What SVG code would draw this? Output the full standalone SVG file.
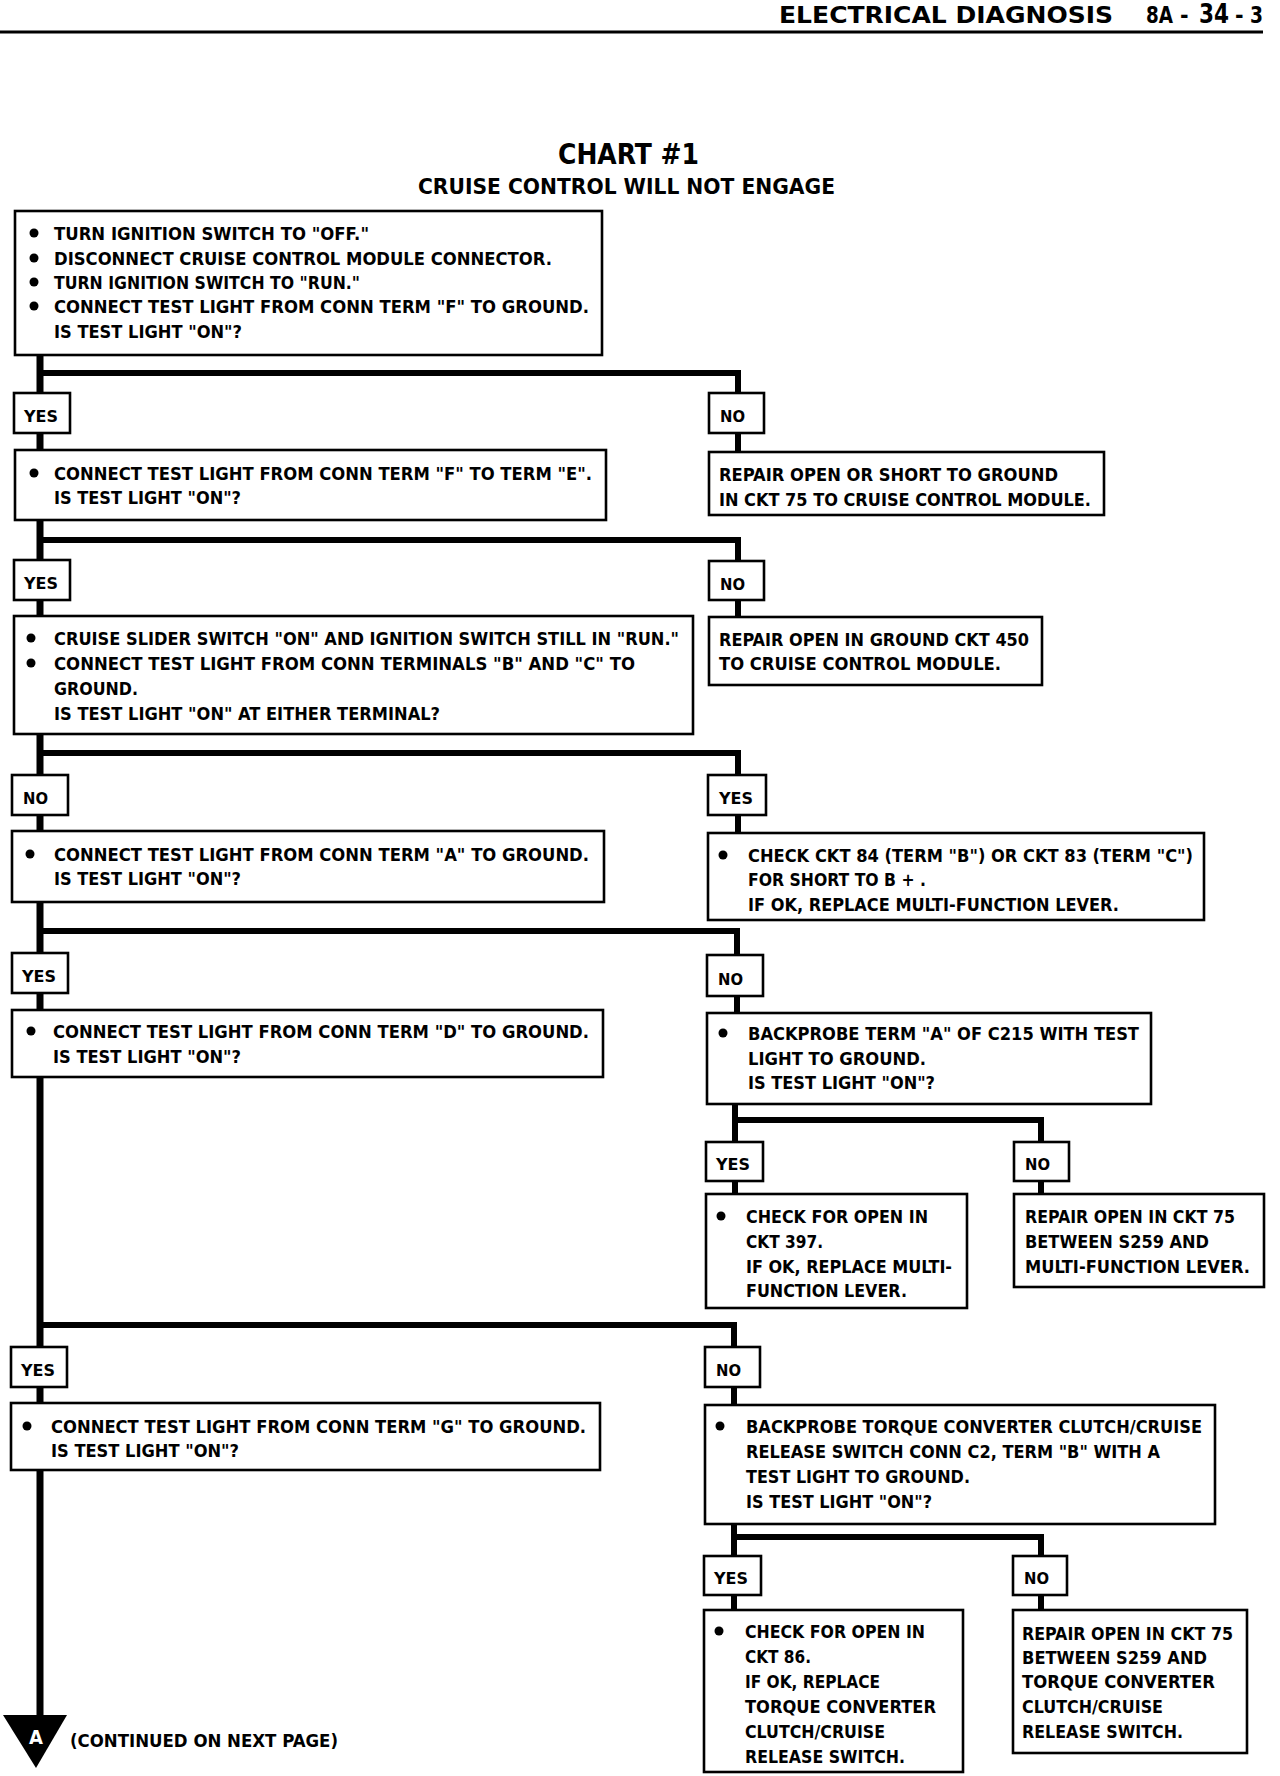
<svg xmlns="http://www.w3.org/2000/svg" width="1280" height="1776" viewBox="0 0 1280 1776">
<style>
.bg{fill:#fff}
.box{fill:#fff;stroke:#000;stroke-width:2.6}
.w{fill:none;stroke:#000;stroke-width:6;stroke-linejoin:miter;stroke-linecap:butt}
.main{fill:none;stroke:#000;stroke-width:7}
text{font-family:"Liberation Sans Narrow","DejaVu Sans Condensed","Liberation Sans",sans-serif;font-weight:bold;fill:#000}
.t{font-size:17px}
.l{font-size:16px}
.h{font-size:23px}
.b{fill:#000}
</style>
<rect class="bg" x="0" y="0" width="1280" height="1776"/>

<g id="header">
<text class="h" y="23"><tspan x="779" textLength="334" lengthAdjust="spacingAndGlyphs">ELECTRICAL DIAGNOSIS</tspan><tspan x="1146" textLength="27" lengthAdjust="spacingAndGlyphs">8A</tspan><tspan x="1180">-</tspan><tspan x="1199" font-size="27" textLength="30" lengthAdjust="spacingAndGlyphs">34</tspan><tspan x="1235">-</tspan><tspan x="1250" textLength="13" lengthAdjust="spacingAndGlyphs">3</tspan></text>
<line x1="0" y1="32" x2="1263" y2="32" stroke="#000" stroke-width="3"/>
</g>

<g id="title">
<text x="558" y="164" font-size="28" textLength="141" lengthAdjust="spacingAndGlyphs">CHART #1</text>
<text x="418" y="194" font-size="22" textLength="417" lengthAdjust="spacingAndGlyphs">CRUISE CONTROL WILL NOT ENGAGE</text>
</g>

<g id="connectors">
<path class="main" d="M40 355 V1716"/>
<path class="w" d="M40 373 H738 V452"/>
<path class="w" d="M40 540 H738 V617"/>
<path class="w" d="M40 753 H738 V833"/>
<path class="w" d="M40 931 H737 V1013"/>
<path class="w" d="M735 1104 V1194 M735 1120 H1041 V1194"/>
<path class="w" d="M40 1325 H734 V1405"/>
<path class="w" d="M734 1524 V1610 M734 1537 H1041 V1610"/>
</g>

<g id="n1">
<rect class="box" x="15" y="211" width="587" height="144"/>
<circle class="b" cx="34" cy="233" r="4.5"/><circle class="b" cx="34" cy="258" r="4.5"/><circle class="b" cx="34" cy="282" r="4.5"/><circle class="b" cx="34" cy="306" r="4.5"/>
<text class="t" x="54" y="240" textLength="315" lengthAdjust="spacingAndGlyphs">TURN IGNITION SWITCH TO "OFF."</text>
<text class="t" x="54" y="265" textLength="498" lengthAdjust="spacingAndGlyphs">DISCONNECT CRUISE CONTROL MODULE CONNECTOR.</text>
<text class="t" x="54" y="289" textLength="306" lengthAdjust="spacingAndGlyphs">TURN IGNITION SWITCH TO "RUN."</text>
<text class="t" x="54" y="313" textLength="535" lengthAdjust="spacingAndGlyphs">CONNECT TEST LIGHT FROM CONN TERM "F" TO GROUND.</text>
<text class="t" x="54" y="338" textLength="188" lengthAdjust="spacingAndGlyphs">IS TEST LIGHT "ON"?</text>
</g>

<g id="yes1"><rect class="box" x="14" y="393" width="56" height="40"/><text class="l" x="24" y="422" textLength="34" lengthAdjust="spacingAndGlyphs">YES</text></g>
<g id="no1"><rect class="box" x="709" y="393" width="55" height="40"/><text class="l" x="720" y="422" textLength="25" lengthAdjust="spacingAndGlyphs">NO</text></g>

<g id="n2">
<rect class="box" x="15" y="450" width="591" height="70"/>
<circle class="b" cx="34" cy="473" r="4.5"/>
<text class="t" x="54" y="480" textLength="538" lengthAdjust="spacingAndGlyphs">CONNECT TEST LIGHT FROM CONN TERM "F" TO TERM "E".</text>
<text class="t" x="54" y="504" textLength="187" lengthAdjust="spacingAndGlyphs">IS TEST LIGHT "ON"?</text>
</g>

<g id="r1">
<rect class="box" x="709" y="452" width="395" height="63"/>
<text class="t" x="719" y="481" textLength="339" lengthAdjust="spacingAndGlyphs">REPAIR OPEN OR SHORT TO GROUND</text>
<text class="t" x="719" y="506" textLength="372" lengthAdjust="spacingAndGlyphs">IN CKT 75 TO CRUISE CONTROL MODULE.</text>
</g>

<g id="yes2"><rect class="box" x="14" y="560" width="56" height="40"/><text class="l" x="24" y="589" textLength="34" lengthAdjust="spacingAndGlyphs">YES</text></g>
<g id="no2"><rect class="box" x="709" y="561" width="55" height="39"/><text class="l" x="720" y="590" textLength="25" lengthAdjust="spacingAndGlyphs">NO</text></g>

<g id="n3">
<rect class="box" x="14" y="616" width="679" height="118"/>
<circle class="b" cx="31" cy="638" r="4.5"/><circle class="b" cx="31" cy="663" r="4.5"/>
<text class="t" x="54" y="645" textLength="625" lengthAdjust="spacingAndGlyphs">CRUISE SLIDER SWITCH "ON" AND IGNITION SWITCH STILL IN "RUN."</text>
<text class="t" x="54" y="670" textLength="581" lengthAdjust="spacingAndGlyphs">CONNECT TEST LIGHT FROM CONN TERMINALS "B" AND "C" TO</text>
<text class="t" x="54" y="695" textLength="84" lengthAdjust="spacingAndGlyphs">GROUND.</text>
<text class="t" x="54" y="720" textLength="386" lengthAdjust="spacingAndGlyphs">IS TEST LIGHT "ON" AT EITHER TERMINAL?</text>
</g>

<g id="r2">
<rect class="box" x="709" y="617" width="333" height="68"/>
<text class="t" x="719" y="646" textLength="310" lengthAdjust="spacingAndGlyphs">REPAIR OPEN IN GROUND CKT 450</text>
<text class="t" x="719" y="670" textLength="282" lengthAdjust="spacingAndGlyphs">TO CRUISE CONTROL MODULE.</text>
</g>

<g id="no3"><rect class="box" x="12" y="775" width="56" height="40"/><text class="l" x="23" y="804" textLength="25" lengthAdjust="spacingAndGlyphs">NO</text></g>
<g id="yes3"><rect class="box" x="708" y="775" width="58" height="40"/><text class="l" x="719" y="804" textLength="34" lengthAdjust="spacingAndGlyphs">YES</text></g>

<g id="n4">
<rect class="box" x="12" y="831" width="592" height="71"/>
<circle class="b" cx="30" cy="854" r="4.5"/>
<text class="t" x="54" y="861" textLength="535" lengthAdjust="spacingAndGlyphs">CONNECT TEST LIGHT FROM CONN TERM "A" TO GROUND.</text>
<text class="t" x="54" y="885" textLength="187" lengthAdjust="spacingAndGlyphs">IS TEST LIGHT "ON"?</text>
</g>

<g id="r3">
<rect class="box" x="708" y="833" width="496" height="87"/>
<circle class="b" cx="723" cy="855" r="4.5"/>
<text class="t" x="748" y="862" textLength="445" lengthAdjust="spacingAndGlyphs">CHECK CKT 84 (TERM "B") OR CKT 83 (TERM "C")</text>
<text class="t" x="748" y="886" textLength="178" lengthAdjust="spacingAndGlyphs">FOR SHORT TO B + .</text>
<text class="t" x="748" y="911" textLength="371" lengthAdjust="spacingAndGlyphs">IF OK, REPLACE MULTI-FUNCTION LEVER.</text>
</g>

<g id="yes4"><rect class="box" x="12" y="953" width="56" height="40"/><text class="l" x="22" y="982" textLength="34" lengthAdjust="spacingAndGlyphs">YES</text></g>
<g id="no4"><rect class="box" x="707" y="955" width="56" height="41"/><text class="l" x="718" y="985" textLength="25" lengthAdjust="spacingAndGlyphs">NO</text></g>

<g id="n5">
<rect class="box" x="12" y="1010" width="591" height="67"/>
<circle class="b" cx="31" cy="1031" r="4.5"/>
<text class="t" x="53" y="1038" textLength="536" lengthAdjust="spacingAndGlyphs">CONNECT TEST LIGHT FROM CONN TERM "D" TO GROUND.</text>
<text class="t" x="53" y="1063" textLength="188" lengthAdjust="spacingAndGlyphs">IS TEST LIGHT "ON"?</text>
</g>

<g id="r4">
<rect class="box" x="707" y="1013" width="444" height="91"/>
<circle class="b" cx="723" cy="1033" r="4.5"/>
<text class="t" x="748" y="1040" textLength="391" lengthAdjust="spacingAndGlyphs">BACKPROBE TERM "A" OF C215 WITH TEST</text>
<text class="t" x="748" y="1065" textLength="178" lengthAdjust="spacingAndGlyphs">LIGHT TO GROUND.</text>
<text class="t" x="748" y="1089" textLength="187" lengthAdjust="spacingAndGlyphs">IS TEST LIGHT "ON"?</text>
</g>

<g id="yes5"><rect class="box" x="706" y="1142" width="57" height="39"/><text class="l" x="716" y="1170" textLength="34" lengthAdjust="spacingAndGlyphs">YES</text></g>
<g id="no5"><rect class="box" x="1014" y="1142" width="55" height="39"/><text class="l" x="1025" y="1170" textLength="25" lengthAdjust="spacingAndGlyphs">NO</text></g>

<g id="r5">
<rect class="box" x="706" y="1194" width="261" height="114"/>
<circle class="b" cx="721" cy="1216" r="4.5"/>
<text class="t" x="746" y="1223" textLength="182" lengthAdjust="spacingAndGlyphs">CHECK FOR OPEN IN</text>
<text class="t" x="746" y="1248" textLength="77" lengthAdjust="spacingAndGlyphs">CKT 397.</text>
<text class="t" x="746" y="1273" textLength="206" lengthAdjust="spacingAndGlyphs">IF OK, REPLACE MULTI-</text>
<text class="t" x="746" y="1297" textLength="161" lengthAdjust="spacingAndGlyphs">FUNCTION LEVER.</text>
</g>

<g id="r6">
<rect class="box" x="1014" y="1194" width="250" height="93"/>
<text class="t" x="1025" y="1223" textLength="210" lengthAdjust="spacingAndGlyphs">REPAIR OPEN IN CKT 75</text>
<text class="t" x="1025" y="1248" textLength="184" lengthAdjust="spacingAndGlyphs">BETWEEN S259 AND</text>
<text class="t" x="1025" y="1273" textLength="225" lengthAdjust="spacingAndGlyphs">MULTI-FUNCTION LEVER.</text>
</g>

<g id="yes6"><rect class="box" x="11" y="1347" width="56" height="40"/><text class="l" x="21" y="1376" textLength="34" lengthAdjust="spacingAndGlyphs">YES</text></g>
<g id="no6"><rect class="box" x="705" y="1347" width="55" height="40"/><text class="l" x="716" y="1376" textLength="25" lengthAdjust="spacingAndGlyphs">NO</text></g>

<g id="n6">
<rect class="box" x="11" y="1403" width="589" height="67"/>
<circle class="b" cx="27" cy="1426" r="4.5"/>
<text class="t" x="51" y="1433" textLength="535" lengthAdjust="spacingAndGlyphs">CONNECT TEST LIGHT FROM CONN TERM "G" TO GROUND.</text>
<text class="t" x="51" y="1457" textLength="188" lengthAdjust="spacingAndGlyphs">IS TEST LIGHT "ON"?</text>
</g>

<g id="r7">
<rect class="box" x="705" y="1405" width="510" height="119"/>
<circle class="b" cx="720" cy="1426" r="4.5"/>
<text class="t" x="746" y="1433" textLength="456" lengthAdjust="spacingAndGlyphs">BACKPROBE TORQUE CONVERTER CLUTCH/CRUISE</text>
<text class="t" x="746" y="1458" textLength="414" lengthAdjust="spacingAndGlyphs">RELEASE SWITCH CONN C2, TERM "B" WITH A</text>
<text class="t" x="746" y="1483" textLength="224" lengthAdjust="spacingAndGlyphs">TEST LIGHT TO GROUND.</text>
<text class="t" x="746" y="1508" textLength="186" lengthAdjust="spacingAndGlyphs">IS TEST LIGHT "ON"?</text>
</g>

<g id="yes7"><rect class="box" x="704" y="1556" width="57" height="39"/><text class="l" x="714" y="1584" textLength="34" lengthAdjust="spacingAndGlyphs">YES</text></g>
<g id="no7"><rect class="box" x="1013" y="1556" width="54" height="39"/><text class="l" x="1024" y="1584" textLength="25" lengthAdjust="spacingAndGlyphs">NO</text></g>

<g id="r8">
<rect class="box" x="704" y="1610" width="259" height="162"/>
<circle class="b" cx="719" cy="1631" r="4.5"/>
<text class="t" x="745" y="1638" textLength="180" lengthAdjust="spacingAndGlyphs">CHECK FOR OPEN IN</text>
<text class="t" x="745" y="1663" textLength="66" lengthAdjust="spacingAndGlyphs">CKT 86.</text>
<text class="t" x="745" y="1688" textLength="135" lengthAdjust="spacingAndGlyphs">IF OK, REPLACE</text>
<text class="t" x="745" y="1713" textLength="191" lengthAdjust="spacingAndGlyphs">TORQUE CONVERTER</text>
<text class="t" x="745" y="1738" textLength="140" lengthAdjust="spacingAndGlyphs">CLUTCH/CRUISE</text>
<text class="t" x="745" y="1763" textLength="160" lengthAdjust="spacingAndGlyphs">RELEASE SWITCH.</text>
</g>

<g id="r9">
<rect class="box" x="1013" y="1610" width="234" height="143"/>
<text class="t" x="1022" y="1640" textLength="211" lengthAdjust="spacingAndGlyphs">REPAIR OPEN IN CKT 75</text>
<text class="t" x="1022" y="1664" textLength="185" lengthAdjust="spacingAndGlyphs">BETWEEN S259 AND</text>
<text class="t" x="1022" y="1688" textLength="193" lengthAdjust="spacingAndGlyphs">TORQUE CONVERTER</text>
<text class="t" x="1022" y="1713" textLength="141" lengthAdjust="spacingAndGlyphs">CLUTCH/CRUISE</text>
<text class="t" x="1022" y="1738" textLength="161" lengthAdjust="spacingAndGlyphs">RELEASE SWITCH.</text>
</g>

<g id="continue">
<polygon points="3,1715 67,1715 36,1768" fill="#000"/>
<text x="36" y="1744" font-size="20" text-anchor="middle" style="fill:#fff">A</text>
<text class="t" x="70" y="1747" textLength="268" lengthAdjust="spacingAndGlyphs">(CONTINUED ON NEXT PAGE)</text>
</g>
</svg>
